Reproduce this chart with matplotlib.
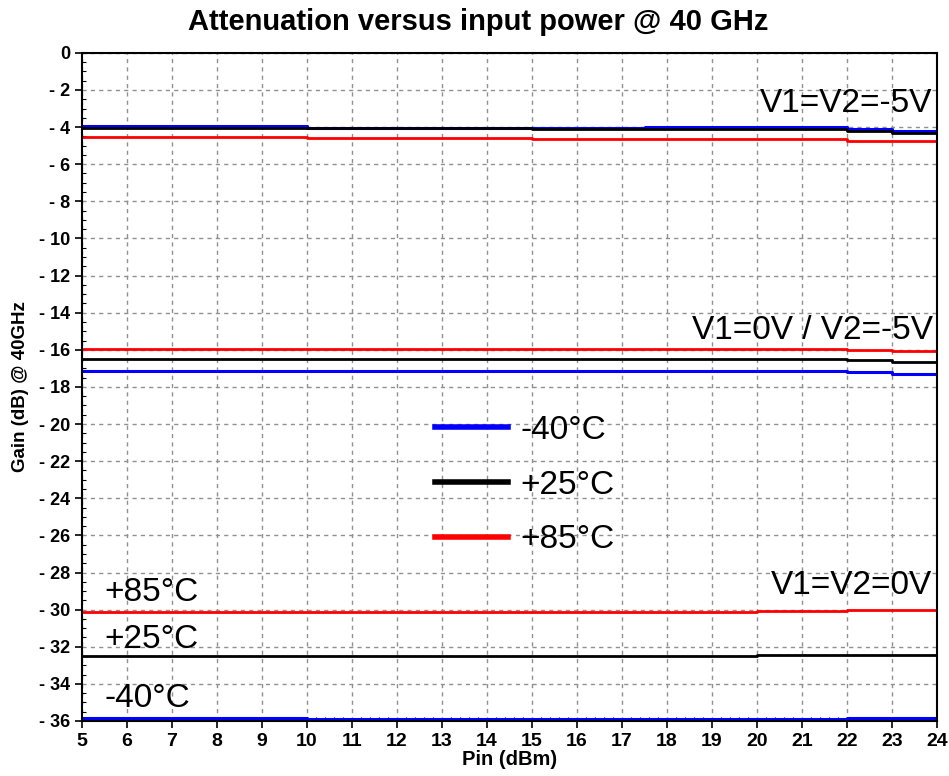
import matplotlib
matplotlib.use('Agg')
import matplotlib.pyplot as plt
from matplotlib.ticker import MultipleLocator, FuncFormatter
from matplotlib.lines import Line2D

plt.rcParams['font.family'] = ['Liberation Sans', 'DejaVu Sans']

# Pin (dBm) breakpoints, drawn as steps
pin = [5, 10, 15, 17.5, 20, 22, 23, 24]

# V1=V2=-5V
m5_blue = [-3.95, -4.07, -4.07, -4.0, -4.0, -4.1, -4.2, -4.2]
m5_black = [-4.04, -4.05, -4.1, -4.12, -4.12, -4.22, -4.32, -4.32]
m5_red = [-4.52, -4.6, -4.65, -4.65, -4.65, -4.74, -4.74, -4.74]

# V1=0V / V2=-5V
mid_blue = [-17.16, -17.16, -17.16, -17.16, -17.16, -17.21, -17.29, -17.29]
mid_black = [-16.5, -16.5, -16.5, -16.5, -16.5, -16.57, -16.64, -16.64]
mid_red = [-15.98, -15.96, -15.96, -15.96, -15.96, -16.03, -16.08, -16.08]

# V1=V2=0V
z_blue = [-35.84, -35.9, -35.9, -35.9, -35.9, -35.84, -35.84, -35.84]
z_black = [-32.5, -32.5, -32.5, -32.5, -32.43, -32.43, -32.43, -32.43]
z_red = [-30.12, -30.12, -30.12, -30.12, -30.08, -30.01, -30.01, -30.01]

fig = plt.figure(figsize=(9.49, 7.76), dpi=100)
ax = fig.add_axes([0.0864, 0.0709, 0.901, 0.861])

for r, k, b in [(m5_red, m5_black, m5_blue), (mid_red, mid_black, mid_blue), (z_red, z_black, z_blue)]:
    ax.plot(pin, r, color='#ff0000', lw=2, drawstyle='steps-post')
    ax.plot(pin, b, color='#0000ff', lw=2.2, drawstyle='steps-post')
    ax.plot(pin, k, color='black', lw=2, drawstyle='steps-post')

ax.set_xlim(5, 24)
ax.set_ylim(-36, 0)
ax.xaxis.set_major_locator(MultipleLocator(1))
ax.xaxis.set_minor_locator(MultipleLocator(0.2))
ax.yaxis.set_major_locator(MultipleLocator(2))
ax.yaxis.set_minor_locator(MultipleLocator(0.5))
ax.yaxis.set_major_formatter(FuncFormatter(lambda v, p: '0' if v == 0 else '- %g' % abs(v)))
ax.grid(True, which='major', color='#909090', linestyle=(0, (3, 3)), lw=1)
ax.tick_params(which='major', length=5, width=1.2, labelsize=13)
ax.tick_params(axis='x', which='major', labelsize=14)
ax.tick_params(which='minor', length=3, width=0.8, direction='in')
for lab in ax.get_yticklabels() + ax.get_xticklabels():
    lab.set_fontweight('bold')
for s in ax.spines.values():
    s.set_linewidth(1.5)

fig.text(478 / 949, 1 - 22 / 776, 'Attenuation versus input power @ 40 GHz',
         fontsize=21, fontweight='bold', ha='center', va='center')
ax.set_xlabel('Pin (dBm)', fontsize=14.5, fontweight='bold', labelpad=0)
ax.set_ylabel('Gain (dB) @ 40GHz', fontsize=13.5, fontweight='bold')
ax.yaxis.set_label_coords((29 - 82) / 855, 0.5)

ax.text(23.9, -2.75, 'V1=V2=-5V', fontsize=24, ha='right', va='center')
ax.text(23.9, -14.95, 'V1=0V / V2=-5V', fontsize=24, ha='right', va='center')
ax.text(23.9, -28.7, 'V1=V2=0V', fontsize=24, ha='right', va='center')
ax.text(5.5, -29.1, '+85°C', fontsize=24, va='center')
ax.text(5.5, -31.6, '+25°C', fontsize=24, va='center')
ax.text(5.5, -34.8, '-40°C', fontsize=24, va='center')

handles = [Line2D([], [], color='#0000ff', lw=4),
           Line2D([], [], color='black', lw=4),
           Line2D([], [], color='#ff0000', lw=4)]
ax.legend(handles, ['-40°C', '+25°C', '+85°C'], loc='center left',
          bbox_to_anchor=(435 / 949, 1 - 485 / 776), bbox_transform=fig.transFigure,
          frameon=False, fontsize=24, handlelength=2.2, handletextpad=0.36,
          labelspacing=0.71, borderpad=0, borderaxespad=0)

fig.savefig('out.png', dpi=100)
